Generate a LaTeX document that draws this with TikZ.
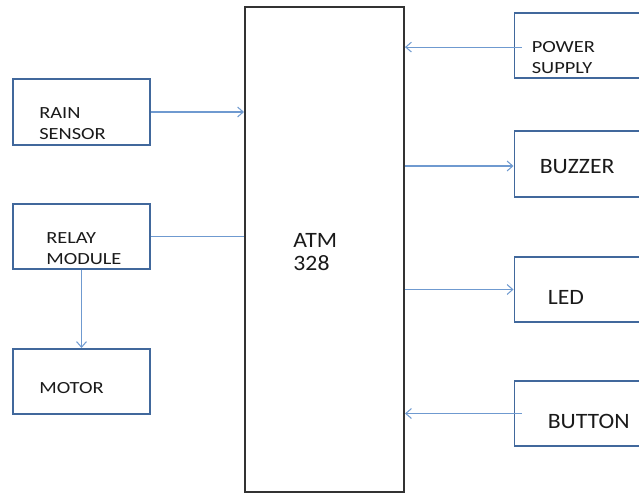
\documentclass[tikz,border=0pt]{standalone}
\usepackage{fontspec}
\usepackage{tikz}
\usetikzlibrary{positioning, arrows.meta}
\newfontfamily\smallblk[FakeStretch=1.2]{Carlito}
\newfontfamily\bigblk[FakeStretch=1.08]{Carlito}
\definecolor{blkedge}{HTML}{41689C}
\definecolor{blkwire}{HTML}{6F9AD0}
\definecolor{blktext}{HTML}{1A1A1A}

\begin{document}
\begin{tikzpicture}[
    block/.style={draw=blkedge, line width=1.4pt, minimum width=3.425cm,
        minimum height=1.625cm, inner sep=0pt, fill=white},
    mcu/.style={draw=black!80, line width=1.4pt, minimum width=3.975cm,
        minimum height=12.125cm, inner sep=0pt, fill=white},
    small/.style={font=\smallblk\fontsize{12.1}{15}\selectfont, text=blktext,
        align=left, anchor=west, inner sep=0pt},
    big/.style={font=\bigblk\fontsize{15.6}{19.5}\selectfont, text=blktext,
        align=left, anchor=west, inner sep=0pt},
    wire/.style={draw=blkwire, line width=0.75pt},
    arr/.style={wire, -{Straight Barb[length=4pt, width=7pt]}},
]
\useasboundingbox (0,0) rectangle (15.975,-12.325);

% ===== Controller =====
\node[mcu] (atm) at (8.1125,-6.2375) {};
\node[big, font=\bigblk\fontsize{15.6}{16.5}\selectfont] (atmT) at (7.33,-6.3) {ATM\\328};

% ===== Left side =====
\node[block, minimum height=1.65cm] (rain) at (2.0375,-2.8) {};
\node[small] (rainT) at ([xshift=0.675cm, yshift=-0.29cm]rain.west) {RAIN\\SENSOR};

\node[block] (relay) at (2.0375,-5.9125) {};
\node[small] (relayT) at ([xshift=0.85cm, yshift=-0.3cm]relay.west) {RELAY\\MODULE};

\node[block] (motor) at (2.0375,-9.5375) {};
\node[small] (motorT) at ([xshift=0.675cm, yshift=-0.16cm]motor.west) {MOTOR};

% ===== Right side =====
\node[block] (power) at (14.575,-1.1375) {};
\node[small] (powerT) at ([xshift=0.45cm, yshift=-0.31cm]power.west) {POWER\\SUPPLY};

\node[block, minimum height=1.65cm] (buzzer) at (14.575,-4.1) {};
\node[big] (buzzerT) at ([xshift=0.65cm, yshift=-0.075cm]buzzer.west) {BUZZER};

\node[block] (led) at (14.575,-7.2375) {};
\node[big] (ledT) at ([xshift=0.85cm, yshift=-0.19cm]led.west) {LED};

\node[block] (button) at (14.575,-10.3375) {};
\node[big] (buttonT) at ([xshift=0.85cm, yshift=-0.21cm]button.west) {BUTTON};

% ===== Connections =====
\draw[arr] (rain.east) -- (rain.east -| atm.west);
\draw[wire] (relay.east) -- (relay.east -| atm.west);
\draw[arr] (relay.south) -- (motor.north);

\coordinate (powerIn) at ([xshift=0.2cm, yshift=-0.04cm]power.west);
\draw[arr] (powerIn) -- (powerIn -| atm.east);
\draw[arr] ([yshift=-0.05cm]buzzer.west -| atm.east) -- ([yshift=-0.05cm]buzzer.west);
\draw[arr] (led.west -| atm.east) -- (led.west);
\coordinate (buttonIn) at ([xshift=0.2cm]button.west);
\draw[arr] (buttonIn) -- (buttonIn -| atm.east);

\end{tikzpicture}
\end{document}
